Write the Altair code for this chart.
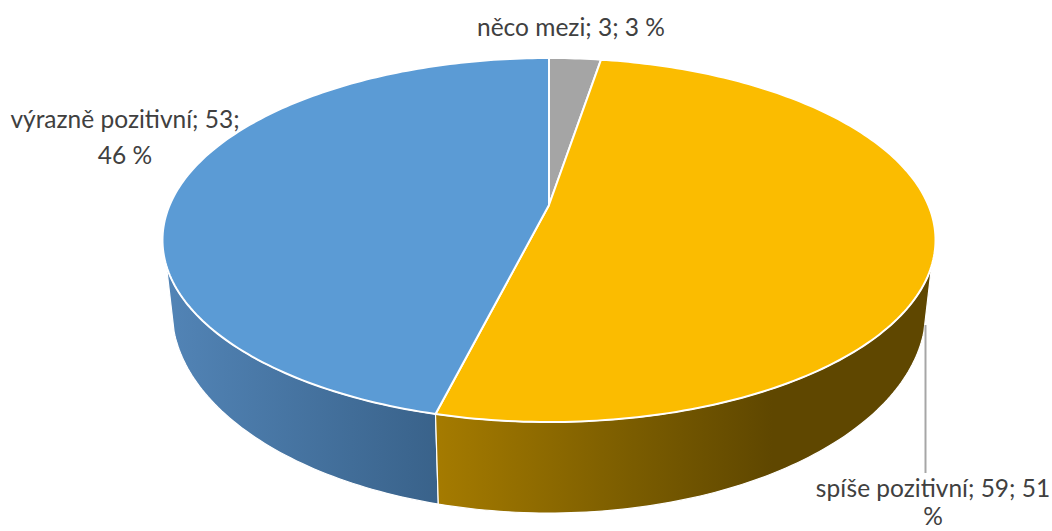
import numpy as np
import pandas as pd
import altair as alt

# Survey answers, drawn clockwise from twelve o'clock
categories = ["něco mezi", "spíše pozitivní", "výrazně pozitivní"]
counts = [3, 59, 53]
percents = [3, 51, 46]
top_colors = ["#A5A5A5", "#FBBC00", "#5B9BD5"]

WIDTH, HEIGHT = 1052, 531

# Perspective disc: a point at angle t lands at
#   x = cx + a*sin(t)/(1 + k*cos(t)),  y = apex - b*cos(t)/(1 + k*cos(t))
CX = 549.0
K = 0.1923
TOP_DISC = dict(a=379.3, b=175.3, apex=205.0)
BASE_DISC = dict(a=370.0, b=195.5, apex=271.0)
TOP_EDGE_DEG = 109.0    # where the wall leaves the top rim
BASE_EDGE_DEG = 107.0   # where the wall's lower rim takes over from the straight side


def project(deg, disc):
    t = np.radians(deg)
    w = 1 + K * np.cos(t)
    return CX + disc["a"] * np.sin(t) / w, disc["apex"] - disc["b"] * np.cos(t) / w


def sweep(start, end):
    n = max(2, int(abs(end - start)) + 2)
    return np.linspace(start, end, n)


X = alt.X("x:Q", scale=alt.Scale(domain=[0, WIDTH], nice=False, zero=False), axis=None)
Y = alt.Y("y:Q", scale=alt.Scale(domain=[HEIGHT, 0], nice=False, zero=False), axis=None)


def outline(xs, ys, fill, stroke="white", width=2.0):
    frame = pd.DataFrame({"x": xs, "y": ys, "i": np.arange(len(xs))})
    return alt.Chart(frame).mark_line(
        fill=fill, stroke=stroke, strokeWidth=width, strokeJoin="round"
    ).encode(x=X, y=Y, order=alt.Order("i:Q"))


def closed(parts):
    xs = np.concatenate([p[0] for p in parts])
    ys = np.concatenate([p[1] for p in parts])
    return np.append(xs, xs[0]), np.append(ys, ys[0])


def shade(stops):
    return alt.Gradient(
        gradient="linear", x1=0, x2=1, y1=0, y2=0,
        stops=[alt.GradientStop(offset=o, color=c) for o, c in stops],
    )


# Slice boundaries in degrees
edges = np.concatenate([[0], np.cumsum(counts)]) / sum(counts) * 360
split = edges[2]

# Side walls, only the two front slices are visible
yellow_wall = closed([
    project(sweep(TOP_EDGE_DEG, split), TOP_DISC),
    project(sweep(split, BASE_EDGE_DEG), BASE_DISC),
])
blue_wall = closed([
    project(sweep(360 - TOP_EDGE_DEG, split), TOP_DISC),
    project(sweep(split, 360 - BASE_EDGE_DEG), BASE_DISC),
])

layers = [
    outline(*blue_wall, shade([(0, "#5284B6"), (1, "#39628A")]), width=1.2),
    outline(*yellow_wall, shade([(0, "#A57B00"), (0.4, "#7A5C00"), (0.68, "#5F4700"), (1, "#5F4700")]), width=1.2),
]

# Top face slices
apex_x, apex_y = project(0.0, TOP_DISC)[0], TOP_DISC["apex"]
for i, color in enumerate(top_colors):
    xs, ys = closed([
        (np.array([apex_x]), np.array([apex_y])),
        project(sweep(edges[i], edges[i + 1]), TOP_DISC),
    ])
    layers.append(outline(xs, ys, color))

# Leader line for the largest slice
leader = alt.Chart(pd.DataFrame({"x": [925.5], "y": [325], "y2": [473]})).mark_rule(
    color="#A6A6A6", strokeWidth=2
).encode(x=X, y=Y, y2="y2:Q")
layers.append(leader)

# Data labels: category; count; percent, wrapped as the chart wraps them
texts = [f"{c}; {n}; {p} %" for c, n, p in zip(categories, counts, percents)]
wrapped = [
    (texts[0], 571, 29),
    (texts[1].rsplit(" ", 1)[0], 933, 490),
    (texts[1].rsplit(" ", 1)[1], 933, 518),
    (texts[2].rsplit(" ", 2)[0], 125, 121),
    (" ".join(texts[2].rsplit(" ", 2)[1:]), 125, 157),
]
label_frame = pd.DataFrame(wrapped, columns=["label", "x", "y"])
layers.append(
    alt.Chart(label_frame).mark_text(
        font="Lato", fontSize=24.5, color="#404040", align="center", baseline="middle"
    ).encode(x=X, y=Y, text="label:N")
)

chart = alt.layer(*layers).properties(
    width=WIDTH, height=HEIGHT, padding=0, background="white",
    autosize=alt.AutoSizeParams(type="none"),
).configure_view(stroke=None)

chart.save("out.html", embed_options={"renderer": "svg", "actions": False})
